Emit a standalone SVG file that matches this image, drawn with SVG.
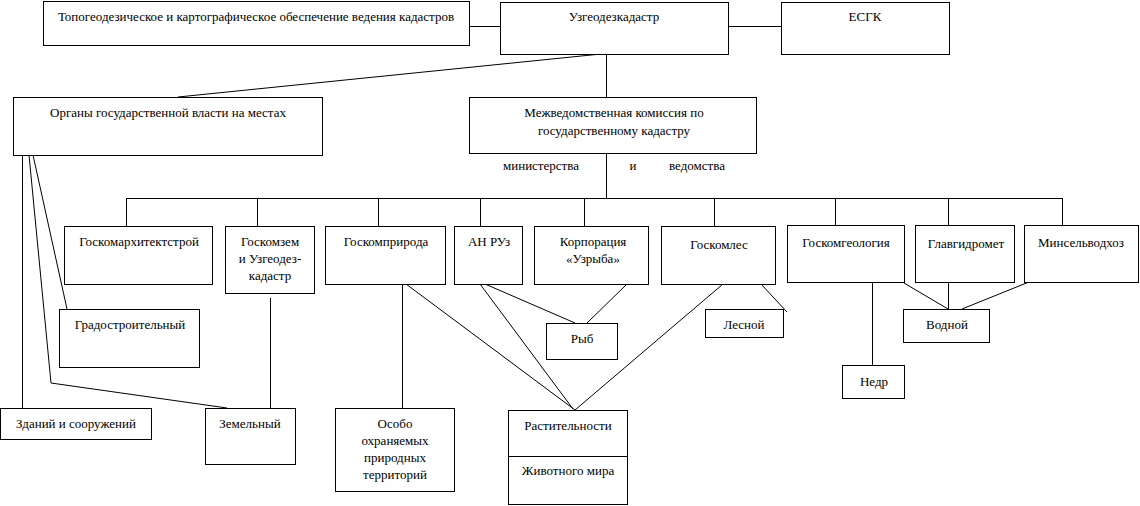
<svg xmlns="http://www.w3.org/2000/svg" width="1140" height="506" viewBox="0 0 1140 506">
<style>
rect{fill:#fff;stroke:#000;stroke-width:1}
line,polyline{stroke:#000;stroke-width:1;fill:none}
text{font-family:"Liberation Serif","Times New Roman",serif;font-size:13px;fill:#000;text-anchor:middle}
</style>
<rect x="0" y="0" width="1140" height="506" style="stroke:none"/>
<g id="connectors">
<line x1="469" y1="26.5" x2="500" y2="26.5"/>
<line x1="728" y1="26.5" x2="781" y2="26.5"/>
<line x1="596" y1="54.5" x2="178" y2="97"/>
<line x1="606.5" y1="54" x2="606.5" y2="97"/>
<line x1="606.5" y1="153" x2="606.5" y2="198.5"/>
<line x1="126" y1="198.5" x2="1062" y2="198.5"/>
<line x1="126.5" y1="198" x2="126.5" y2="226"/>
<line x1="257.5" y1="198" x2="257.5" y2="226"/>
<line x1="378.5" y1="198" x2="378.5" y2="226"/>
<line x1="480.5" y1="198" x2="480.5" y2="226"/>
<line x1="584.5" y1="198" x2="584.5" y2="226"/>
<line x1="714.5" y1="198" x2="714.5" y2="226"/>
<line x1="835.5" y1="198" x2="835.5" y2="225"/>
<line x1="948.5" y1="198" x2="948.5" y2="225"/>
<line x1="1062.5" y1="198" x2="1062.5" y2="225"/>
<line x1="22.5" y1="155" x2="22.5" y2="408"/>
<polyline points="29,155 51,383 227,408"/>
<line x1="33" y1="155" x2="67" y2="309"/>
<line x1="270.5" y1="298" x2="270.5" y2="408"/>
<line x1="402.5" y1="284" x2="402.5" y2="408"/>
<line x1="406" y1="284" x2="575" y2="410"/>
<line x1="480" y1="284" x2="573" y2="409"/>
<line x1="485" y1="284" x2="575" y2="323"/>
<line x1="627" y1="284" x2="587" y2="323"/>
<line x1="723" y1="284" x2="575" y2="410"/>
<line x1="761" y1="284" x2="787" y2="312"/>
<line x1="872.5" y1="282" x2="872.5" y2="365"/>
<line x1="904" y1="283" x2="948" y2="309"/>
<line x1="948.5" y1="282" x2="948.5" y2="309"/>
<line x1="1029" y1="282" x2="962" y2="309"/>
</g>
<g id="topo"><rect x="43.5" y="1.5" width="426" height="44"/><text x="256" y="21">Топогеодезическое и картографическое обеспечение ведения кадастров</text></g>
<g id="uzgeodezkadastr"><rect x="500.5" y="2.5" width="228" height="52"/><text x="614" y="21">Узгеодезкадастр</text></g>
<g id="esgk"><rect x="781.5" y="2.5" width="168" height="52"/><text x="865" y="21">ЕСГК</text></g>
<g id="organy"><rect x="13.5" y="97.5" width="309" height="58"/><text x="168" y="117">Органы государственной власти на местах</text></g>
<g id="mezhved"><rect x="469.5" y="97.5" width="287" height="56"/><text x="614" y="117">Межведомственная комиссия по</text><text x="614" y="135">государственному кадастру</text></g>
<g id="ministries-label"><text x="541" y="170">министерства</text><text x="633" y="170">и</text><text x="697" y="170">ведомства</text></g>
<g id="goskomarch"><rect x="64.5" y="226.5" width="148" height="58"/><text x="139" y="246">Госкомархитектстрой</text></g>
<g id="goskomzem"><rect x="225.5" y="226.5" width="89" height="67"/><text x="270" y="246">Госкомзем</text><text x="270" y="263">и Узгеодез-</text><text x="270" y="280">кадастр</text></g>
<g id="goskompriroda"><rect x="325.5" y="226.5" width="120" height="58"/><text x="386" y="246">Госкомприрода</text></g>
<g id="an-ruz"><rect x="454.5" y="226.5" width="68" height="58"/><text x="489" y="246">АН РУз</text></g>
<g id="uzryba"><rect x="534.5" y="226.5" width="114" height="58"/><text x="593" y="246">Корпорация</text><text x="593" y="263">«Узрыба»</text></g>
<g id="goskomles"><rect x="661.5" y="226.5" width="114" height="58"/><text x="719" y="249">Госкомлес</text></g>
<g id="goskomgeologiya"><rect x="787.5" y="225.5" width="117" height="57"/><text x="846" y="247">Госкомгеология</text></g>
<g id="glavgidromet"><rect x="915.5" y="225.5" width="99" height="57"/><text x="966" y="248">Главгидромет</text></g>
<g id="minselvodkhoz"><rect x="1024.5" y="225.5" width="114" height="57"/><text x="1081" y="247">Минсельводхоз</text></g>
<g id="gradostroitelny"><rect x="59.5" y="309.5" width="140" height="58"/><text x="130" y="329">Градостроительный</text></g>
<g id="zdaniy"><rect x="0.5" y="408.5" width="151" height="31"/><text x="76" y="428">Зданий и сооружений</text></g>
<g id="zemelny"><rect x="205.5" y="408.5" width="90" height="56"/><text x="250" y="428">Земельный</text></g>
<g id="osobo"><rect x="335.5" y="408.5" width="119" height="83"/><text x="395" y="428">Особо</text><text x="395" y="445">охраняемых</text><text x="395" y="462">природных</text><text x="395" y="479">территорий</text></g>
<g id="ryb"><rect x="546.5" y="323.5" width="71" height="36"/><text x="582" y="343">Рыб</text></g>
<g id="rastitelnosti"><rect x="508.5" y="410.5" width="119" height="94"/><line x1="508" y1="456.5" x2="627" y2="456.5"/><text x="568" y="430">Растительности</text><text x="568" y="475">Животного мира</text></g>
<g id="lesnoy"><rect x="705.5" y="309.5" width="78" height="28"/><text x="744" y="329">Лесной</text></g>
<g id="vodnoy"><rect x="903.5" y="309.5" width="86" height="33"/><text x="947" y="329">Водной</text></g>
<g id="nedr"><rect x="842.5" y="365.5" width="62" height="33"/><text x="874" y="386">Недр</text></g>
</svg>
